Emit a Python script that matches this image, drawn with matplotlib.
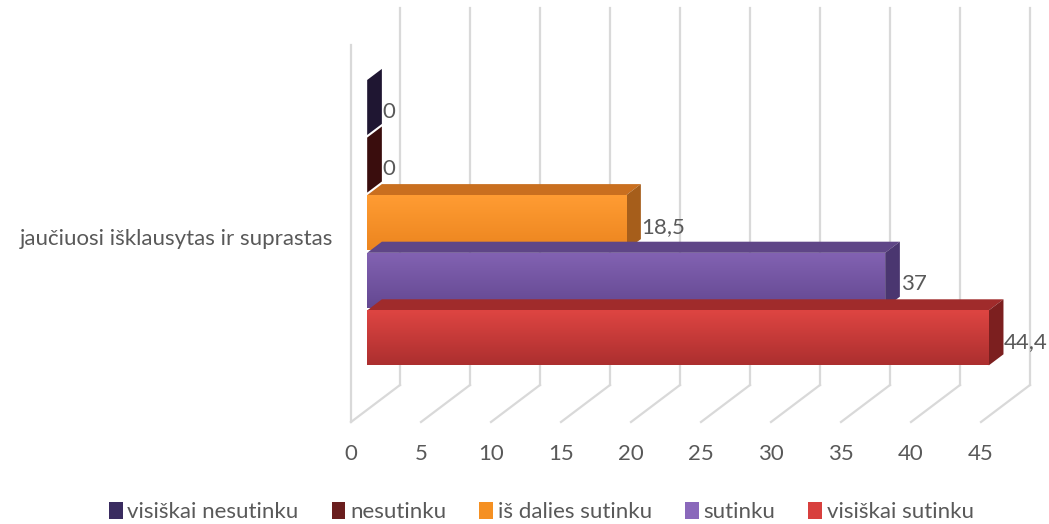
# 3D-style clustered bar chart (Excel look) drawn with plain matplotlib
import numpy as np
import matplotlib.pyplot as plt
from matplotlib.patches import Polygon, Patch
from matplotlib.colors import to_rgb

category = 'jaučiuosi išklausytas ir suprastas'
series = ['visiškai nesutinku', 'nesutinku', 'iš dalies sutinku', 'sutinku', 'visiškai sutinku']
values = [0, 0, 18.5, 37, 44.4]
value_labels = ['0', '0', '18,5', '37', '44,4']
ticks = [0, 5, 10, 15, 20, 25, 30, 35, 40, 45]

# (front top, front bottom, top face, side face)
colors = [
    ('#2a1f45', '#1c1430', '#2a1f45', '#1f1632'),
    ('#4a1414', '#320b0b', '#4a1414', '#3a0d0d'),
    ('#ff9c33', '#ec851f', '#c96f1f', '#a65e1b'),
    ('#8262b2', '#644891', '#5f4687', '#4a3670'),
    ('#de4542', '#ac2f2f', '#a02b2b', '#7c1f1f'),
]
legend_colors = ['#3a2c60', '#6a1e1e', '#f59022', '#8a68bb', '#d8403e']

W, H, DPI = 1049, 524, 100
PX = 14.0                 # pixels per value unit on the front plane
X0 = 351                  # pixel of value 0 on the front plane
WALL_DX = 49 / PX         # depth offset of the back wall (value units)
WALL_DY = -37             # depth offset of the back wall (pixels, y down)
FLOOR_Y = 422
WALL_TOP = 45
BAR_FRONT = 0.33          # depth fraction of bar front plane
BAR_BACK = 0.63
BAR_TOP0, BAR_PITCH, BAR_H = 80, 57.6, 55
GRID = '#d9d9d9'
TXT = '#595959'
FONT = 'Lato'
FS = 16

fig = plt.figure(figsize=(W / DPI, H / DPI), dpi=DPI)
ax = fig.add_axes([0, 0, 1, 1])
ax.axis('off')

# walls and gridlines
ax.plot([0, 0], [WALL_TOP, FLOOR_Y], color=GRID, lw=1.6, zorder=1)
for t in ticks:
    ax.plot([t + WALL_DX, t + WALL_DX], [WALL_TOP + WALL_DY, FLOOR_Y + WALL_DY],
            color=GRID, lw=1.6, zorder=1)
    ax.plot([t, t + WALL_DX], [FLOOR_Y, FLOOR_Y + WALL_DY], color=GRID, lw=1.6, zorder=1)
    ax.text(t, 454, str(t), ha='center', va='center', fontsize=FS,
            color=TXT, family=FONT)

fx = BAR_FRONT * WALL_DX
bdx = (BAR_BACK - BAR_FRONT) * WALL_DX
bdy = (BAR_BACK - BAR_FRONT) * WALL_DY

for i, (v, lab, c) in enumerate(zip(values, value_labels, colors)):
    top = BAR_TOP0 + i * BAR_PITCH
    bot = top + BAR_H
    z = 5 + i
    # top face
    ax.add_patch(Polygon([(fx, top), (fx + bdx, top + bdy), (fx + v + bdx, top + bdy),
                          (fx + v, top)], closed=True, fc=c[2], ec='none', zorder=z))
    # right face
    ax.add_patch(Polygon([(fx + v, top), (fx + v + bdx, top + bdy), (fx + v + bdx, bot + bdy),
                          (fx + v, bot)], closed=True, fc=c[3], ec='none', zorder=z))
    # front face with vertical gradient
    if v > 0:
        grad = np.linspace(0, 1, 64).reshape(-1, 1)
        c0 = np.array(to_rgb(c[0]))
        c1 = np.array(to_rgb(c[1]))
        img = c0 + (c1 - c0) * grad[..., None]
        ax.imshow(img, extent=(fx, fx + v, bot, top), aspect='auto',
                  interpolation='bilinear', zorder=z + 0.1)
    ax.text(fx + v + bdx + 0.05, (top + bot) / 2 + 4, lab, ha='left', va='center',
            fontsize=FS, color=TXT, family=FONT, zorder=20)

ax.set_xlim(-X0 / PX, (W - X0) / PX)
ax.set_ylim(H, 0)

ax.text((333 - X0) / PX, 239, category, ha='right', va='center', fontsize=FS,
        color=TXT, family=FONT)

handles = [Patch(facecolor=c, edgecolor='none') for c in legend_colors]
fig.legend(handles, series, loc='center', bbox_to_anchor=(0.516, 1 - 512 / H), ncol=5,
           frameon=False, handlelength=0.62, handleheight=0.8, handletextpad=0.2,
           columnspacing=1.5, prop={'family': FONT, 'size': FS}, labelcolor=TXT)

fig.savefig('out.png', dpi=DPI)
